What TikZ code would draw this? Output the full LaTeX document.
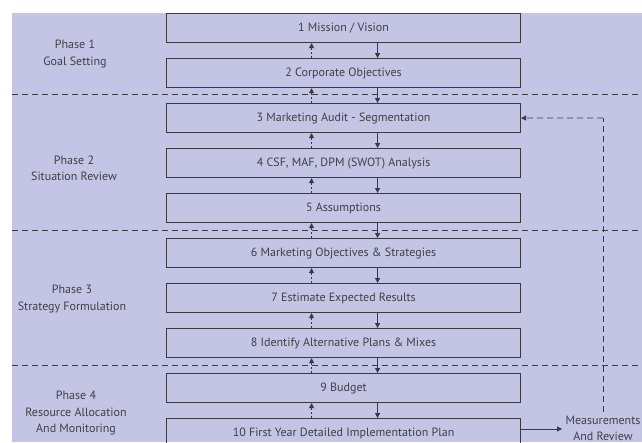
\documentclass[tikz,border=0pt]{standalone}
\usepackage{fontspec}
\setmainfont{PT Sans}
\usetikzlibrary{arrows.meta}
\definecolor{bg}{RGB}{196,196,228}
\definecolor{ln}{RGB}{58,58,68}
\definecolor{tx}{RGB}{64,64,72}
\tikzset{
  stagebox/.style={draw=ln, line width=1.1pt, minimum width=354pt, minimum height=29pt, anchor=north west, inner sep=0pt, text=tx, font=\fontsize{12}{14}\selectfont},
  phaselbl/.style={align=center, text=tx, font=\fontsize{12}{16.5}\selectfont},
  downarr/.style={draw=ln, line width=0.9pt, -{Triangle[length=5pt,width=5pt]}},
  uparr/.style={draw=ln, line width=0.9pt, dash pattern=on 2pt off 2pt, -{Triangle[length=5pt,width=5pt]}},
  sepline/.style={draw=ln, line width=0.9pt, dash pattern=on 6pt off 4pt},
  fbline/.style={draw=ln, line width=0.9pt, dash pattern=on 6pt off 4pt}
}
\begin{document}
\begin{tikzpicture}[x=1pt,y=-1pt]
\useasboundingbox (0,0) rectangle (642,442);
\clip (0,0) rectangle (642,442);
\fill[bg] (12,13) rectangle (642,442);
% separators
\draw[sepline] (12,94) -- (642,94);
\draw[sepline] (12,230) -- (642,230);
\draw[sepline] (12,365) -- (642,365);
% boxes
\node[stagebox] (b1) at (166,13) {1 Mission / Vision};
\node[stagebox] (b2) at (166,58) {2 Corporate Objectives};
\node[stagebox] (b3) at (166,103) {3 Marketing Audit - Segmentation};
\node[stagebox] (b4) at (166,148) {4 CSF, MAF, DPM (SWOT) Analysis};
\node[stagebox] (b5) at (166,193) {5 Assumptions};
\node[stagebox] (b6) at (166,238) {6 Marketing Objectives \& Strategies};
\node[stagebox] (b7) at (166,283) {7 Estimate Expected Results};
\node[stagebox] (b8) at (166,328) {8 Identify Alternative Plans \& Mixes};
\node[stagebox] (b9) at (166,373) {9 Budget};
\node[stagebox] (b10) at (166,418) {10 First Year Detailed Implementation Plan};
% arrows
\foreach \a/\b in {b1/b2,b2/b3,b3/b4,b4/b5,b5/b6,b6/b7,b7/b8,b8/b9,b9/b10}{
  \draw[downarr] ([xshift=34pt]\a.south) -- ([xshift=34pt]\b.north);
  \draw[uparr] ([xshift=-32pt]\b.north) -- ([xshift=-32pt]\a.south);
}
% phase labels
\node[phaselbl] (p1) at (75,54) {Phase 1\\Goal Setting};
\node[phaselbl] (p2) at (74,168.5) {Phase 2\\Situation Review};
\node[phaselbl] (p3) at (72,299) {Phase 3\\Strategy Formulation};
\node[phaselbl] (p4) at (76,413) {Phase 4\\Resource Allocation\\And Monitoring};
% measurements
\node[phaselbl, font=\fontsize{12}{16}\selectfont] (mr) at (603,428) {Measurements\\And Review};
\draw[downarr] (b10.east |- 0,429) -- (mr.west |- 0,429);
\coordinate (fbc) at (603,118);
\draw[fbline] (mr.north) -- (fbc);
\draw[fbline, -{Triangle[length=5pt,width=5pt]}] (fbc) -- (b3.east);
\end{tikzpicture}
\end{document}
